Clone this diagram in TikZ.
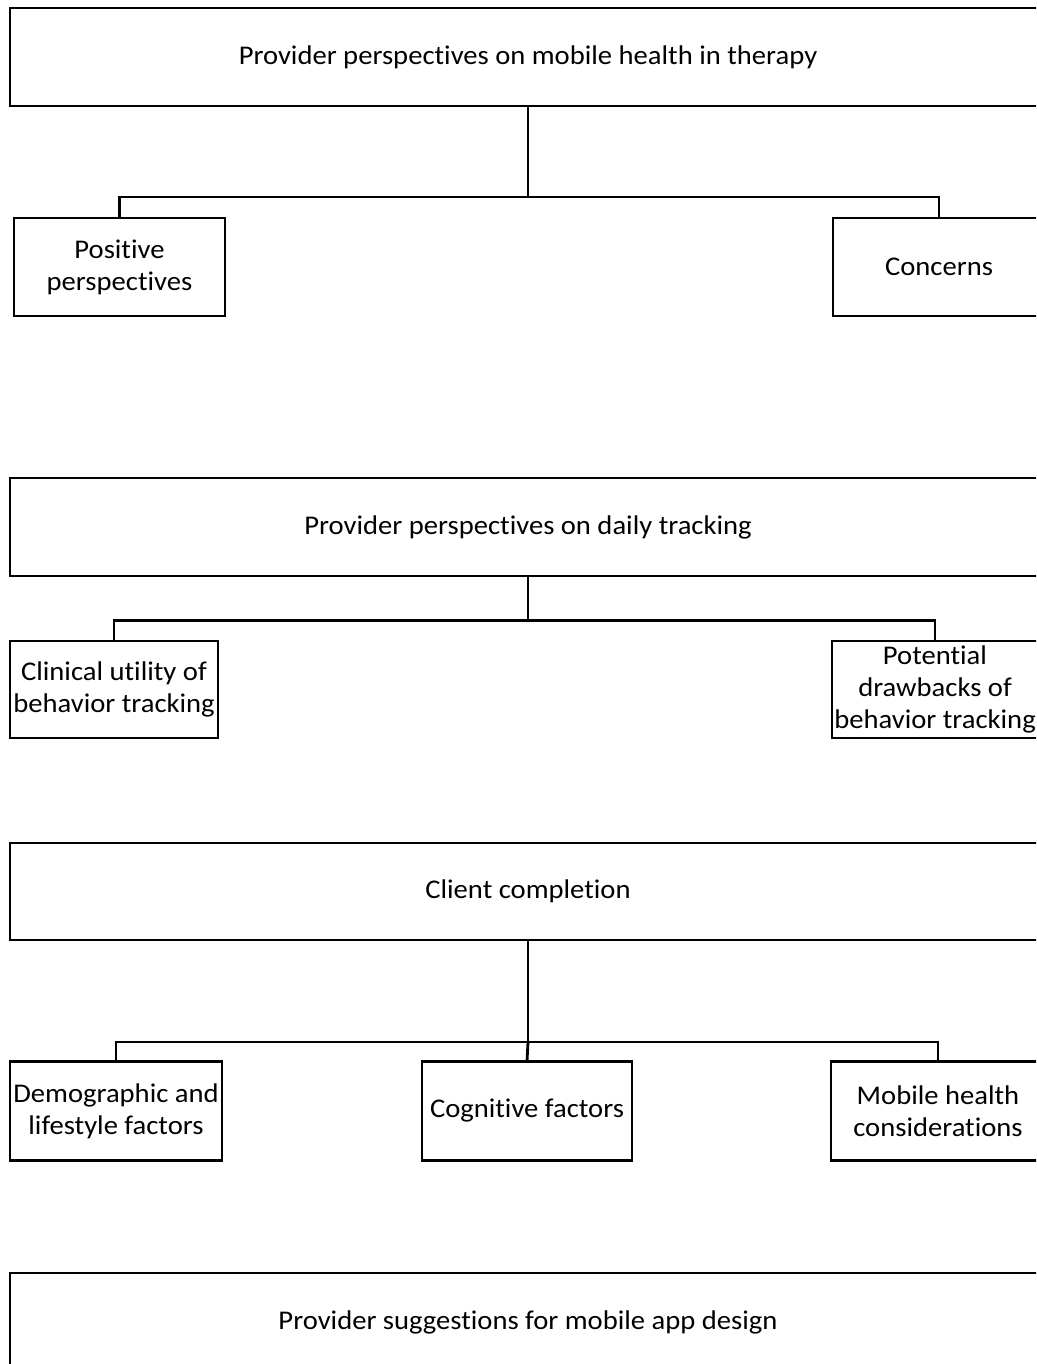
\documentclass[tikz,border=0pt]{standalone}
\usepackage{fontspec}
\setmainfont{Carlito}[FakeStretch=1.06, Ligatures=NoCommon]
\begin{document}
\begin{tikzpicture}[x=1pt,y=-1pt,
  every node/.style={font=\fontsize{27}{32}\selectfont, align=center, inner sep=0pt, outer sep=0pt},
  box/.style={draw, line width=2.8pt, minimum height=98pt},
  wide/.style={box, minimum width=1036pt},
  leaf/.style={box, minimum width=211pt},
  conn/.style={line width=2.8pt}]
\useasboundingbox (0,0) rectangle (1036,1364);
\fill[white] (0,0) rectangle (1036,1364);
\clip (0,0) rectangle (1036,1364);

% Section 1
\node[wide] (top) at (528,57) {Provider perspectives on mobile health in therapy};
\node[leaf] (pos) at (119.5,267) {Positive\\perspectives};
\node[leaf, minimum width=212pt] (con) at (939,267) {Concerns};
\coordinate (j1) at (528,197);
\draw[conn] (top.south) -- (j1) -| (pos.north);
\draw[conn] (j1) -| (con.north);

% Section 2
\node[wide] (track) at (528,527) {Provider perspectives on daily tracking};
\node[leaf, minimum width=208pt, minimum height=97pt] (clin) at (114,689.5) {Clinical utility of\\behavior tracking};
\node[leaf, minimum width=206pt, minimum height=97pt] (pot) at (935,689.5) {Potential\\drawbacks of\\behavior tracking};
\coordinate (j2) at (528,620.5);
\draw[conn] (track.south) -- (j2) -| (clin.north);
\draw[conn] (j2) -| (pot.north);

% Section 3
\node[wide, minimum height=97pt] (client) at (528,891.5) {Client completion};
\node[leaf, minimum width=212pt, minimum height=99pt] (demo) at (116,1111) {Demographic and\\lifestyle factors};
\node[leaf, minimum width=210pt, minimum height=99pt] (cog) at (527,1111) {Cognitive factors};
\node[leaf, minimum width=214pt, minimum height=99pt] (mob) at (938,1111) {Mobile health\\considerations};
\coordinate (j3) at (528,1042);
\draw[conn] (client.south) -- (j3) -| (demo.north);
\draw[conn] (j3) -| (mob.north);
\draw[conn] (j3) -- (cog.north);

% Section 4
\node[wide] (design) at (528,1322) {Provider suggestions for mobile app design};
\end{tikzpicture}
\end{document}
